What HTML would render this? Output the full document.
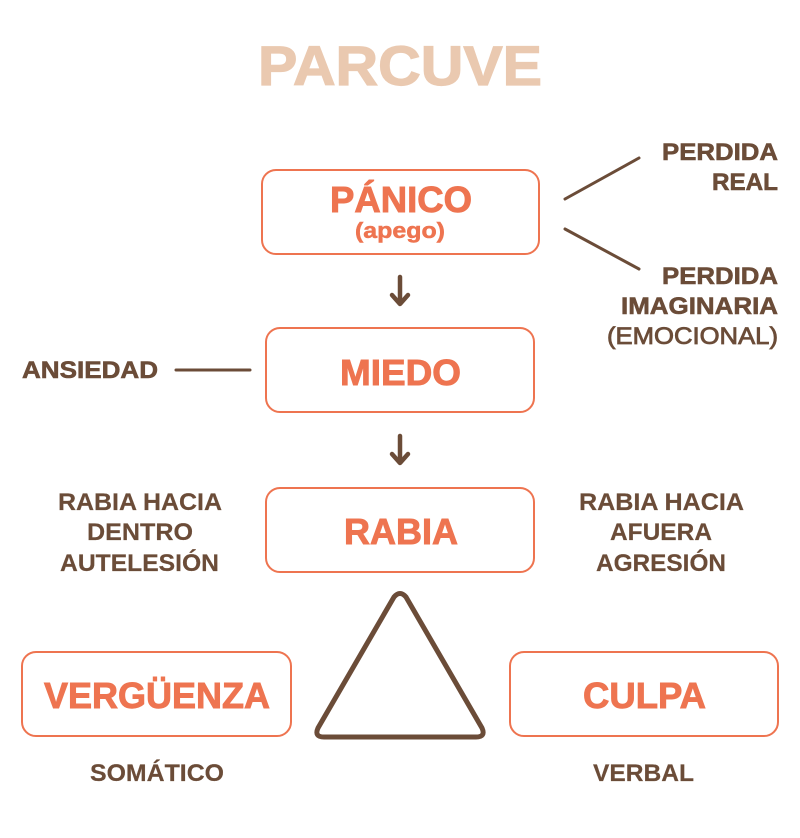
<!DOCTYPE html>
<html><head><meta charset="utf-8"><style>
html,body{margin:0;padding:0;background:#fff;}
svg{display:block;}
text{font-family:"Liberation Sans",sans-serif;font-weight:bold;}
.o{fill:#EE7450;stroke:#EE7450;stroke-width:0.9;}
.b{fill:#6B4C38;stroke:#6B4C38;stroke-width:0.6;}
</style></head><body>
<svg width="800" height="838" viewBox="0 0 800 838" xmlns="http://www.w3.org/2000/svg">
<text x="258" y="85" font-size="56" fill="#EAC9B0" stroke="#EAC9B0" stroke-width="1.2" textLength="284" lengthAdjust="spacingAndGlyphs">PARCUVE</text>

<g fill="none" stroke="#EE7450" stroke-width="2">
<rect x="262" y="170" width="277" height="84" rx="14"/>
<rect x="266" y="328" width="268" height="84" rx="14"/>
<rect x="266" y="488" width="268" height="84" rx="14"/>
<rect x="22" y="652" width="269" height="84" rx="14"/>
<rect x="510" y="652" width="268" height="84" rx="14"/>
</g>

<text class="o" x="330" y="212" font-size="36" textLength="142" lengthAdjust="spacingAndGlyphs">PÁNICO</text>
<text class="o" x="355" y="238" font-size="22" style="stroke-width:0.5" textLength="90" lengthAdjust="spacingAndGlyphs">(apego)</text>
<text class="o" x="340" y="385" font-size="36" textLength="121" lengthAdjust="spacingAndGlyphs">MIEDO</text>
<text class="o" x="344" y="544" font-size="36" textLength="114" lengthAdjust="spacingAndGlyphs">RABIA</text>
<text class="o" x="44" y="708" font-size="36" textLength="226" lengthAdjust="spacingAndGlyphs">VERGÜENZA</text>
<text class="o" x="583" y="708" font-size="36" textLength="123" lengthAdjust="spacingAndGlyphs">CULPA</text>

<g stroke="#6B4C38" stroke-width="3" stroke-linecap="round" fill="none">
<line x1="565" y1="199" x2="639" y2="158"/>
<line x1="565" y1="229" x2="639" y2="269"/>
<line x1="176" y1="370" x2="250" y2="370"/>
</g>
<g stroke="#6B4C38" stroke-width="4.5" stroke-linecap="round" stroke-linejoin="round" fill="none">
<line x1="400" y1="277" x2="400" y2="303"/>
<polyline points="392,295 400,304 408,295"/>
<line x1="400" y1="436" x2="400" y2="462"/>
<polyline points="392,454 400,463 408,454"/>
</g>
<path d="M394,597 Q400,590 406,597 L482,728 Q486,737 476,737 L324,737 Q314,737 318,728 Z" fill="none" stroke="#6B4C38" stroke-width="5" stroke-linejoin="round"/>

<text class="b" x="662" y="160" font-size="24" textLength="116" lengthAdjust="spacingAndGlyphs">PERDIDA</text>
<text class="b" x="712" y="190" font-size="24" textLength="66" lengthAdjust="spacingAndGlyphs">REAL</text>
<text class="b" x="662" y="284" font-size="24" textLength="116" lengthAdjust="spacingAndGlyphs">PERDIDA</text>
<text class="b" x="621" y="314" font-size="24" textLength="157" lengthAdjust="spacingAndGlyphs">IMAGINARIA</text>
<text class="b" x="607" y="344" font-size="24" style="font-weight:normal;stroke-width:0.8" textLength="171" lengthAdjust="spacingAndGlyphs">(EMOCIONAL)</text>
<text class="b" x="22" y="378" font-size="24" textLength="136" lengthAdjust="spacingAndGlyphs">ANSIEDAD</text>

<g font-size="24">
<text class="b" x="58" y="510" style="stroke-width:0.2" textLength="164" lengthAdjust="spacingAndGlyphs">RABIA HACIA</text>
<text class="b" x="87" y="540" style="stroke-width:0.2" textLength="106" lengthAdjust="spacingAndGlyphs">DENTRO</text>
<text class="b" x="60" y="571" style="stroke-width:0.2" textLength="159" lengthAdjust="spacingAndGlyphs">AUTELESIÓN</text>
<text class="b" x="579" y="510" style="stroke-width:0.2" textLength="165" lengthAdjust="spacingAndGlyphs">RABIA HACIA</text>
<text class="b" x="610" y="540" style="stroke-width:0.2" textLength="102" lengthAdjust="spacingAndGlyphs">AFUERA</text>
<text class="b" x="596" y="571" style="stroke-width:0.2" textLength="130" lengthAdjust="spacingAndGlyphs">AGRESIÓN</text>
<text class="b" x="90" y="781" style="stroke-width:0.2" textLength="134" lengthAdjust="spacingAndGlyphs">SOMÁTICO</text>
<text class="b" x="593" y="781" style="stroke-width:0.2" textLength="101" lengthAdjust="spacingAndGlyphs">VERBAL</text>
</g>
</svg>
</body></html>
